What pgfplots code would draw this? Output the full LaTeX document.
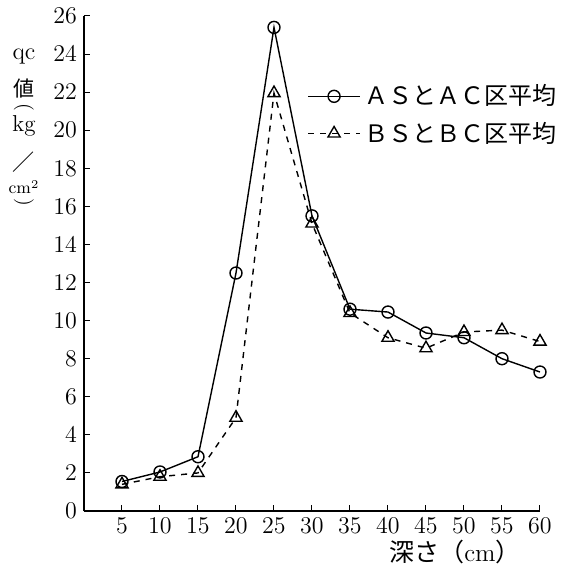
\documentclass[border=0pt]{standalone}
\usepackage{fontspec}
\usepackage{pgfplots}
\pgfplotsset{compat=1.18}
\newfontfamily\cjk{Noto Sans CJK JP}
\begin{document}
\begin{tikzpicture}
\begin{axis}[name=ax,
  scale only axis, width=228pt, height=247.5pt,
  xmin=0, xmax=60, ymin=0, ymax=26,
  axis x line*=bottom, axis y line*=left,
  xtick={5,10,...,60}, ytick={0,2,...,26},
  tick align=inside, major tick length=3pt,
  tick style={black, line width=0.5pt},
  axis line style={line width=0.6pt},
  ticklabel style={font=\fontsize{12.5}{14}\selectfont},
  clip=false,
  legend style={draw=none, fill=none, at={(0.489,0.87)}, anchor=north west,
    font=\cjk\fontsize{12}{14}\selectfont, row sep=3pt, inner sep=0pt,
    /tikz/every even column/.append style={column sep=0pt}},
  legend cell align=left,
  legend image code/.code={\draw[mark repeat=2,mark phase=2,#1] plot coordinates {(0pt,0pt) (13pt,0pt) (26pt,0pt)};},
]
\addplot[black, line width=0.7pt, mark=o, mark size=3pt, mark options={solid, fill=white}]
 coordinates {(5,1.55) (10,2.05) (15,2.85) (20,12.5) (25,25.4) (30,15.5) (35,10.6) (40,10.45) (45,9.35) (50,9.1) (55,8.0) (60,7.3)};
\addlegendentry{ＡＳとＡＣ区平均}
\addplot[black, line width=0.7pt, dashed, mark=triangle, mark size=3.5pt, mark options={solid, fill=white}]
 coordinates {(5,1.4) (10,1.8) (15,2.0) (20,4.9) (25,21.95) (30,15.1) (35,10.4) (40,9.1) (45,8.55) (50,9.4) (55,9.5) (60,8.9)};
\addlegendentry{ＢＳとＢＣ区平均}
\end{axis}
\path ([xshift=-42pt,yshift=-32.5pt]ax.south west) rectangle ([xshift=15.5pt,yshift=8pt]ax.north east);
\begin{scope}[every node/.style={inner sep=0pt, anchor=center}]
\node at ([xshift=-30pt,yshift=-20pt]ax.north west) {\fontsize{12}{14}\selectfont qc};
\node at ([xshift=-30pt,yshift=-36.5pt]ax.north west) {\cjk\fontsize{10.5}{12}\selectfont 値};
\node[rotate=-90] at ([xshift=-30pt,yshift=-45.5pt]ax.north west) {\fontsize{10}{12}\selectfont (};
\node at ([xshift=-30pt,yshift=-55pt]ax.north west) {\fontsize{11.5}{14}\selectfont kg};
\node at ([xshift=-30pt,yshift=-73pt]ax.north west) {\cjk\fontsize{11}{14}\selectfont ／};
\node at ([xshift=-30pt,yshift=-85.5pt]ax.north west) {\fontsize{8.5}{10}\selectfont cm\textsuperscript{2}};
\node[rotate=-90] at ([xshift=-30pt,yshift=-93pt]ax.north west) {\fontsize{10}{12}\selectfont )};
\node at ([xshift=185.5pt,yshift=-20.5pt]ax.south west) {\cjk\fontsize{12.5}{14}\selectfont 深さ（{\rmfamily cm}）};
\end{scope}
\end{tikzpicture}
\end{document}
